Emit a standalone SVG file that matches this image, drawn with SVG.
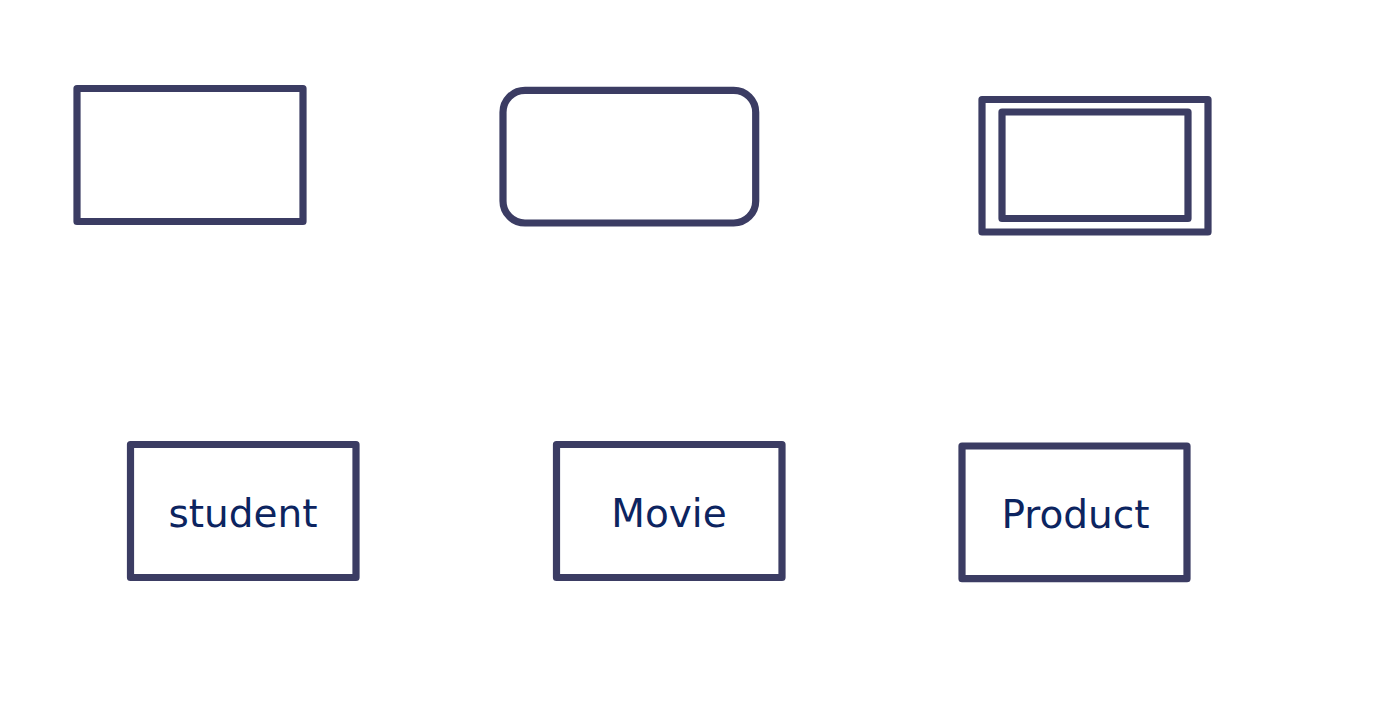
<svg xmlns="http://www.w3.org/2000/svg" width="1396" height="714" viewBox="0 0 1396 714">
<style>
.s{fill:#ffffff;stroke:#3b3c63;stroke-width:7.2;stroke-linejoin:round}
.t{font-family:"DejaVu Sans",Verdana,sans-serif;font-size:39px;fill:#0c2460;text-anchor:middle}
</style>
<rect width="1396" height="714" fill="#ffffff"/>
<g id="entity-plain"><rect class="s" x="77" y="88.5" width="226" height="133"/></g>
<g id="entity-rounded"><rect class="s" x="503" y="90.3" width="252.7" height="132.7" rx="22" ry="22"/></g>
<g id="entity-weak"><rect class="s" x="982" y="99.5" width="226" height="132.5"/><rect class="s" x="1002" y="112" width="186" height="106.5"/></g>
<g id="entity-student"><rect class="s" x="130.5" y="444.5" width="225.5" height="133"/><text class="t" x="243" y="527">student</text></g>
<g id="entity-movie"><rect class="s" x="556.5" y="444.5" width="225.5" height="133"/><text class="t" x="669" y="527">Movie</text></g>
<g id="entity-product"><rect class="s" x="962" y="446" width="225" height="132.7"/><text class="t" x="1075.5" y="528">Product</text></g>
<g id="connectors"></g>
</svg>
